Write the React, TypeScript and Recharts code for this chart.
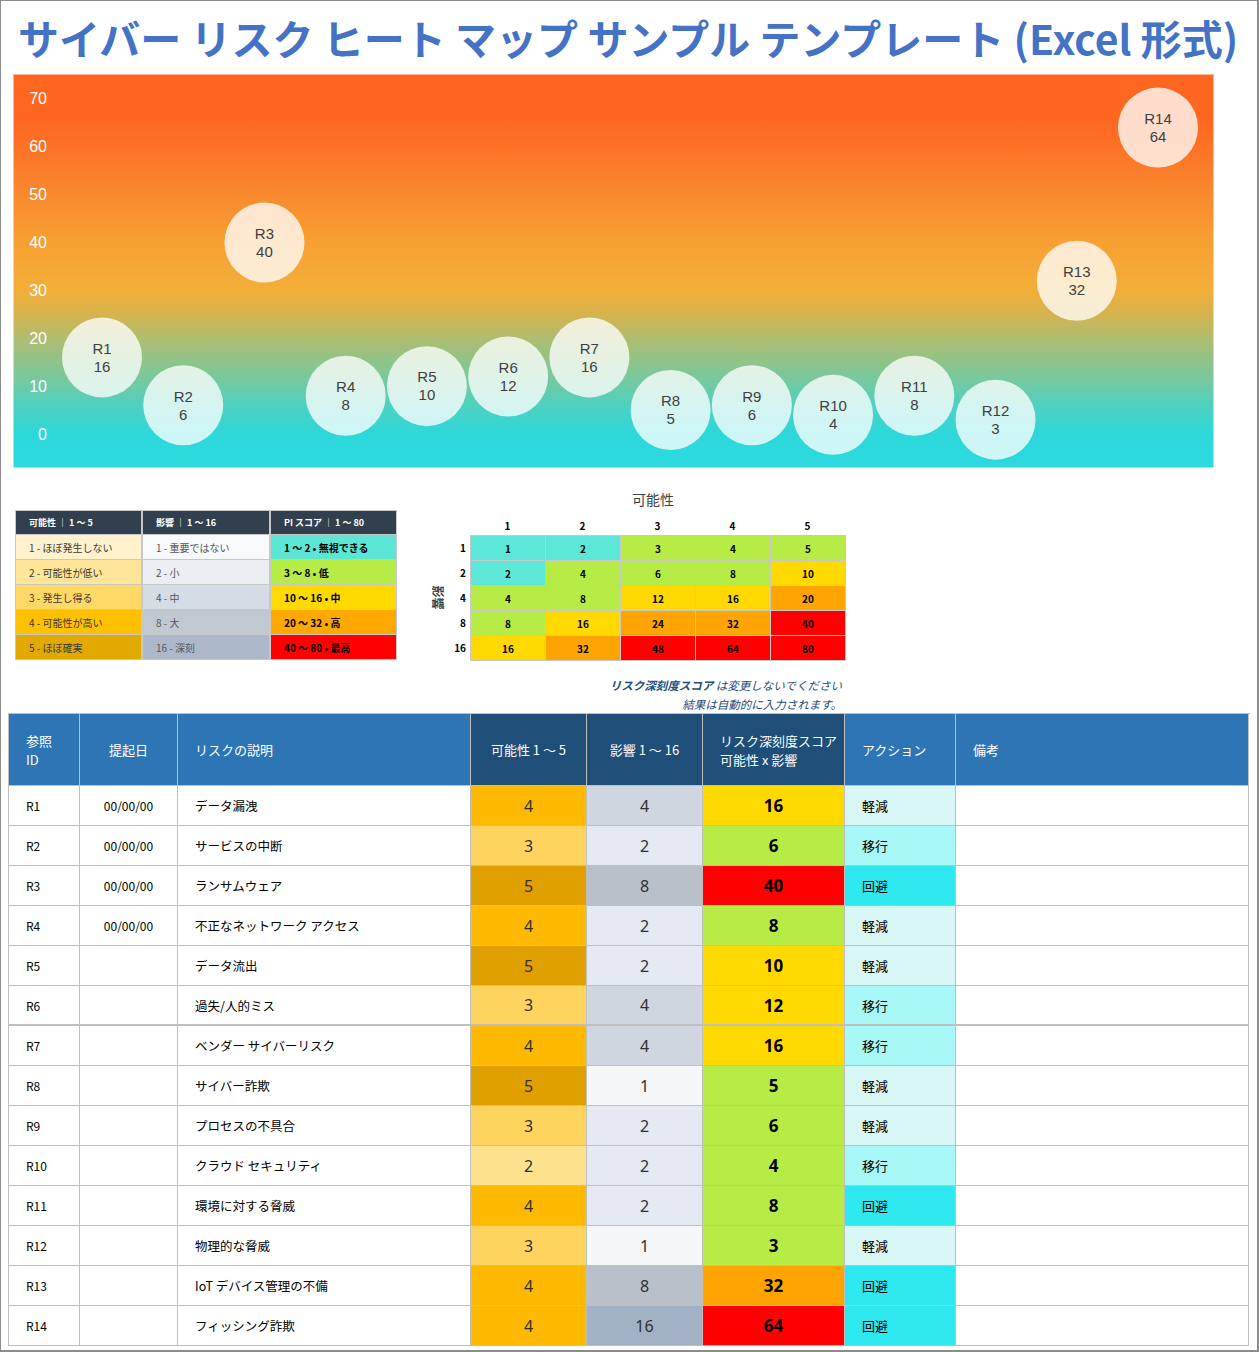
import React from "react";
import { ScatterChart, Scatter, XAxis, YAxis, CartesianGrid } from "recharts";

// risk register
const riskIds = ["R1", "R2", "R3", "R4", "R5", "R6", "R7", "R8", "R9", "R10", "R11", "R12", "R13", "R14"];
const raisedDates = ["00/00/00", "00/00/00", "00/00/00", "00/00/00", "", "", "", "", "", "", "", "", "", ""];
const descriptions = [
  "データ漏洩",
  "サービスの中断",
  "ランサムウェア",
  "不正なネットワーク アクセス",
  "データ流出",
  "過失/人的ミス",
  "ベンダー サイバーリスク",
  "サイバー詐欺",
  "プロセスの不具合",
  "クラウド セキュリティ",
  "環境に対する脅威",
  "物理的な脅威",
  "IoT デバイス管理の不備",
  "フィッシング詐欺",
];
const likelihood = [4, 3, 5, 4, 5, 3, 4, 5, 3, 2, 4, 3, 4, 4];
const impact = [4, 2, 8, 2, 2, 4, 4, 1, 2, 2, 2, 1, 8, 16];
const scores = [16, 6, 40, 8, 10, 12, 16, 5, 6, 4, 8, 3, 32, 64];
const actions = ["軽減", "移行", "回避", "軽減", "軽減", "移行", "移行", "軽減", "軽減", "移行", "回避", "軽減", "回避", "回避"];

const yTicks = [0, 10, 20, 30, 40, 50, 60, 70];

// legend
const legendHeaders = ["可能性 ｜ 1 ～ 5", "影響 ｜ 1 ～ 16", "PI スコア ｜ 1 ～ 80"];
const likelihoodLabels = ["1 - ほぼ発生しない", "2 - 可能性が低い", "3 - 発生し得る", "4 - 可能性が高い", "5 - ほぼ確実"];
const impactLabels = ["1 - 重要ではない", "2 - 小", "4 - 中", "8 - 大", "16 - 深刻"];
const scoreLabels = ["1 ～ 2 • 無視できる", "3 ～ 8 • 低", "10 ～ 16 • 中", "20 ～ 32 • 高", "40 ～ 80 • 最高"];

// matrix
const matrixCols = [1, 2, 3, 4, 5];
const matrixRows = [1, 2, 4, 8, 16];
const matrixValues = [
  [1, 2, 3, 4, 5],
  [2, 4, 6, 8, 10],
  [4, 8, 12, 16, 20],
  [8, 16, 24, 32, 40],
  [16, 32, 48, 64, 80],
];

const tableHeaders = ["参照\nID", "提起日", "リスクの説明", "可能性 1 ～ 5", "影響 1 ～ 16", "リスク深刻度スコア\n可能性 x 影響", "アクション", "備考"];

const FONT = '"Noto Sans CJK JP", "Noto Sans", sans-serif';
const GRID = "#bfbfbf";

const likelihoodColor: Record<number, string> = { 1: "#fff2cc", 2: "#ffe28e", 3: "#ffd45e", 4: "#ffb900", 5: "#dfa000" };
const legendLikelihoodColor = ["#fff2cc", "#ffe699", "#ffd966", "#ffc000", "#e2aa00"];
const impactColor: Record<number, string> = { 1: "#f6f7f9", 2: "#e5e9f1", 4: "#d0d6e0", 8: "#bac0c9", 16: "#a2b1c4" };
const legendImpactColor = ["#f8f9fa", "#ebeef2", "#d6dce4", "#c2c8d0", "#adb9ca"];
const legendScoreColor = ["#5ce6d6", "#b7eb46", "#ffd900", "#ffa800", "#ff0000"];
const actionColor: Record<string, string> = { 軽減: "#daf7f7", 移行: "#a9f8f8", 回避: "#2de8ee" };

function scoreColor(v: number) {
  if (v <= 2) return "#5ce8d8";
  if (v <= 8) return "#b7ec46";
  if (v <= 16) return "#ffd900";
  if (v <= 32) return "#ffa400";
  return "#ff0000";
}

const bubbleData = riskIds.map((id, i) => ({ x: i + 1, y: scores[i], id }));

const Bubble = (props: any) => {
  const { cx, cy, payload } = props;
  return (
    <g>
      <circle cx={cx} cy={cy} r={40} fill="#ffffff" fillOpacity={0.77} />
      <text x={cx} y={cy - 9} textAnchor="middle" dy="0.35em" fontSize={15} fill="#404040" fontFamily="Liberation Sans, sans-serif">
        {payload.id}
      </text>
      <text x={cx} y={cy + 9} textAnchor="middle" dy="0.35em" fontSize={15} fill="#404040" fontFamily="Liberation Sans, sans-serif">
        {payload.y}
      </text>
    </g>
  );
};

const YTick = (props: any) => {
  const { y, payload } = props;
  return (
    <text x={47} y={y} dy="0.35em" textAnchor="end" fontSize={16} fill="#ffffff" fontFamily="Liberation Sans, sans-serif">
      {payload.value}
    </text>
  );
};

function Box({ left, top, width, height, bg, children, style }: any) {
  return (
    <div
      style={{
        position: "absolute",
        left,
        top,
        width,
        height,
        background: bg,
        boxSizing: "border-box",
        display: "flex",
        alignItems: "center",
        ...style,
      }}
    >
      {children}
    </div>
  );
}

function Legend() {
  const cw = [127, 128, 127];
  const lefts = [15, 142, 270];
  const cols = [likelihoodLabels, impactLabels, scoreLabels];
  const colColors = [legendLikelihoodColor, legendImpactColor, legendScoreColor];
  return (
    <>
      {legendHeaders.map((h, c) => (
        <Box
          key={"h" + c}
          left={lefts[c]}
          top={510}
          width={cw[c]}
          height={25}
          bg="#323f4f"
          style={{ color: "#fff", fontSize: 9, fontWeight: 700, paddingLeft: 13, border: "1px solid #c8c8c8" }}
        >
          {h}
        </Box>
      ))}
      {cols.map((labels, c) =>
        labels.map((t, r) => (
          <Box
            key={c + "-" + r}
            left={lefts[c]}
            top={534 + r * 25}
            width={cw[c]}
            height={26}
            bg={colColors[c][r]}
            style={{
              fontSize: 10,
              paddingLeft: 13,
              border: "1px solid #c8c8c8",
              color: c === 2 ? "#000" : c === 1 ? "#555" : "#3a3a3a",
              fontWeight: c === 2 ? 700 : 400,
            }}
          >
            {t}
          </Box>
        ))
      )}
    </>
  );
}

function Matrix() {
  const x0 = 470;
  const y0 = 535;
  const w = 75;
  const h = 25;
  return (
    <>
      <div style={{ position: "absolute", left: 603, top: 489, width: 100, textAlign: "center", fontSize: 14, color: "#404040" }}>
        可能性
      </div>
      <div
        style={{
          position: "absolute",
          left: 418,
          top: 589,
          width: 40,
          textAlign: "center",
          fontSize: 12,
          fontWeight: 700,
          color: "#404040",
          transform: "rotate(90deg)",
        }}
      >
        影響
      </div>
      {matrixCols.map((c, i) => (
        <Box
          key={"c" + c}
          left={x0 + i * w}
          top={515}
          width={w}
          height={20}
          style={{ justifyContent: "center", fontSize: 10, fontWeight: 700, color: "#000" }}
        >
          {c}
        </Box>
      ))}
      {matrixRows.map((r, j) => (
        <Box
          key={"r" + r}
          left={440}
          top={y0 + j * h}
          width={26}
          height={h}
          style={{ justifyContent: "flex-end", fontSize: 10, fontWeight: 700, color: "#000" }}
        >
          {r}
        </Box>
      ))}
      {matrixValues.map((row, j) =>
        row.map((v, i) => (
          <Box
            key={i + "-" + j}
            left={x0 + i * w}
            top={y0 + j * h}
            width={w + 1}
            height={h + 1}
            bg={scoreColor(v)}
            style={{ justifyContent: "center", fontSize: 10, fontWeight: 700, color: "#000", border: "1px solid #c8c8c8" }}
          >
            {v}
          </Box>
        ))
      )}
      <div
        style={{
          position: "absolute",
          left: 480,
          top: 676,
          width: 362,
          textAlign: "right",
          fontSize: 11.5,
          fontStyle: "italic",
          color: "#1f4e79",
          lineHeight: "19px",
        }}
      >
        <span style={{ fontWeight: 700 }}>リスク深刻度スコア</span> は変更しないでください
        <br />
        結果は自動的に入力されます。
      </div>
    </>
  );
}

function RiskTable() {
  const colWidths = [71, 98, 293, 116, 116, 142, 111, 293];
  const lefts: number[] = [];
  let acc = 9;
  colWidths.forEach((w) => {
    lefts.push(acc);
    acc += w;
  });
  const headerTop = 714;
  const headerH = 72;
  const rowH = 40;
  const headerBg = ["#2e75b6", "#2e75b6", "#2e75b6", "#1f4e79", "#1f4e79", "#1f4e79", "#2e75b6", "#2e75b6"];
  const headerAlign = ["flex-start", "center", "flex-start", "center", "center", "flex-start", "flex-start", "flex-start"];
  const cellBorder = { borderRight: `1px solid ${GRID}`, borderBottom: `1px solid ${GRID}` };
  return (
    <>
      <div
        style={{
          position: "absolute",
          left: 8,
          top: headerTop - 1,
          width: 1242,
          height: headerH + rowH * 14 + 1,
          borderLeft: `1px solid ${GRID}`,
          borderTop: `1px solid ${GRID}`,
          boxSizing: "border-box",
        }}
      />
      {tableHeaders.map((h, c) => (
        <Box
          key={"th" + c}
          left={lefts[c]}
          top={headerTop}
          width={colWidths[c]}
          height={headerH}
          bg={headerBg[c]}
          style={{
            ...cellBorder,
            justifyContent: headerAlign[c],
            paddingLeft: headerAlign[c] === "flex-start" ? 17 : 0,
            color: "#ffffff",
            fontSize: 13,
            lineHeight: "19px",
            whiteSpace: "pre",
          }}
        >
          {h}
        </Box>
      ))}
      {riskIds.map((id, r) => {
        const top = headerTop + headerH + r * rowH;
        const rb = r === 5 ? { borderBottom: `2px solid ${GRID}` } : {};
        const cells = [
          { text: id, align: "flex-start", size: 12, bg: "#fff" },
          { text: raisedDates[r], align: "center", size: 12, bg: "#fff" },
          { text: descriptions[r], align: "flex-start", size: 12.5, bg: "#fff" },
          { text: likelihood[r], align: "center", size: 16, bg: likelihoodColor[likelihood[r]] },
          { text: impact[r], align: "center", size: 16, bg: impactColor[impact[r]] },
          { text: scores[r], align: "center", size: 17, bg: scoreColor(scores[r]), bold: true },
          { text: actions[r], align: "flex-start", size: 13, bg: actionColor[actions[r]] },
          { text: "", align: "flex-start", size: 13, bg: "#fff" },
        ];
        return cells.map((cell, c) => (
          <Box
            key={id + "-" + c}
            left={lefts[c]}
            top={top}
            width={colWidths[c]}
            height={rowH}
            bg={cell.bg}
            style={{
              ...cellBorder,
              ...rb,
              justifyContent: cell.align,
              paddingLeft: cell.align === "flex-start" ? 17 : 0,
              fontSize: cell.size,
              fontWeight: cell.bold ? 700 : 400,
              color: c === 3 || c === 4 ? "#303030" : "#000",
              fontFamily: c >= 3 && c <= 5 ? '"Noto Sans", "Noto Sans CJK JP", sans-serif' : FONT,
            }}
          >
            {cell.text}
          </Box>
        ));
      })}
    </>
  );
}

export default function App() {
  return (
    <div
      style={{
        position: "absolute",
        left: 0,
        top: 0,
        width: 1259,
        height: 1352,
        background: "#ffffff",
        fontFamily: FONT,
        overflow: "hidden",
      }}
    >
      <svg width={0} height={0} style={{ position: "absolute" }}>
        <defs>
          <linearGradient id="heatBg" x1="0" y1="0" x2="0" y2="1">
            <stop offset="0" stopColor="#ff6620" />
            <stop offset="0.12" stopColor="#ff6821" />
            <stop offset="0.185" stopColor="#fd7226" />
            <stop offset="0.307" stopColor="#f98a2e" />
            <stop offset="0.426" stopColor="#f7a033" />
            <stop offset="0.548" stopColor="#f3ae38" />
            <stop offset="0.609" stopColor="#d6b34e" />
            <stop offset="0.67" stopColor="#b0bd70" />
            <stop offset="0.731" stopColor="#8ec48a" />
            <stop offset="0.792" stopColor="#6dcba8" />
            <stop offset="0.853" stopColor="#48d2c5" />
            <stop offset="0.914" stopColor="#2dd8da" />
            <stop offset="1" stopColor="#2bdadf" />
          </linearGradient>
        </defs>
      </svg>

      <div
        style={{
          position: "absolute",
          left: 18,
          top: 9,
          fontSize: 41,
          fontWeight: 700,
          color: "#4472c4",
          whiteSpace: "nowrap",
          lineHeight: "56px",
        }}
      >
        サイバー リスク ヒート マップ サンプル テンプレート (Excel 形式)
      </div>

      <div style={{ position: "absolute", left: 0, top: 0 }}>
        <ScatterChart width={1259} height={480} margin={{ top: 74, right: 45, bottom: 12, left: 12 }}>
          <CartesianGrid fill="url(#heatBg)" horizontal={false} vertical={false} />
          <XAxis type="number" dataKey="x" domain={[1, 14]} padding={{ left: 89, right: 56 }} hide />
          <YAxis
            type="number"
            dataKey="y"
            domain={[-7.1, 75.2]}
            ticks={yTicks}
            width={1}
            axisLine={false}
            tickLine={false}
            tick={<YTick />}
          />
          <Scatter data={bubbleData} shape={<Bubble />} isAnimationActive={false} />
        </ScatterChart>
      </div>
      <div
        style={{
          position: "absolute",
          left: 13,
          top: 74,
          width: 1201,
          height: 394,
          border: "1px solid rgba(255,255,255,0.5)",
          boxSizing: "border-box",
          pointerEvents: "none",
        }}
      />

      <Legend />
      <Matrix />
      <RiskTable />

      <div
        style={{
          position: "absolute",
          left: 0,
          top: 0,
          width: 1259,
          height: 1352,
          border: "1px solid #8c8c8c",
          borderRightWidth: 2,
          borderBottomWidth: 2,
          boxSizing: "border-box",
          pointerEvents: "none",
        }}
      />
    </div>
  );
}
